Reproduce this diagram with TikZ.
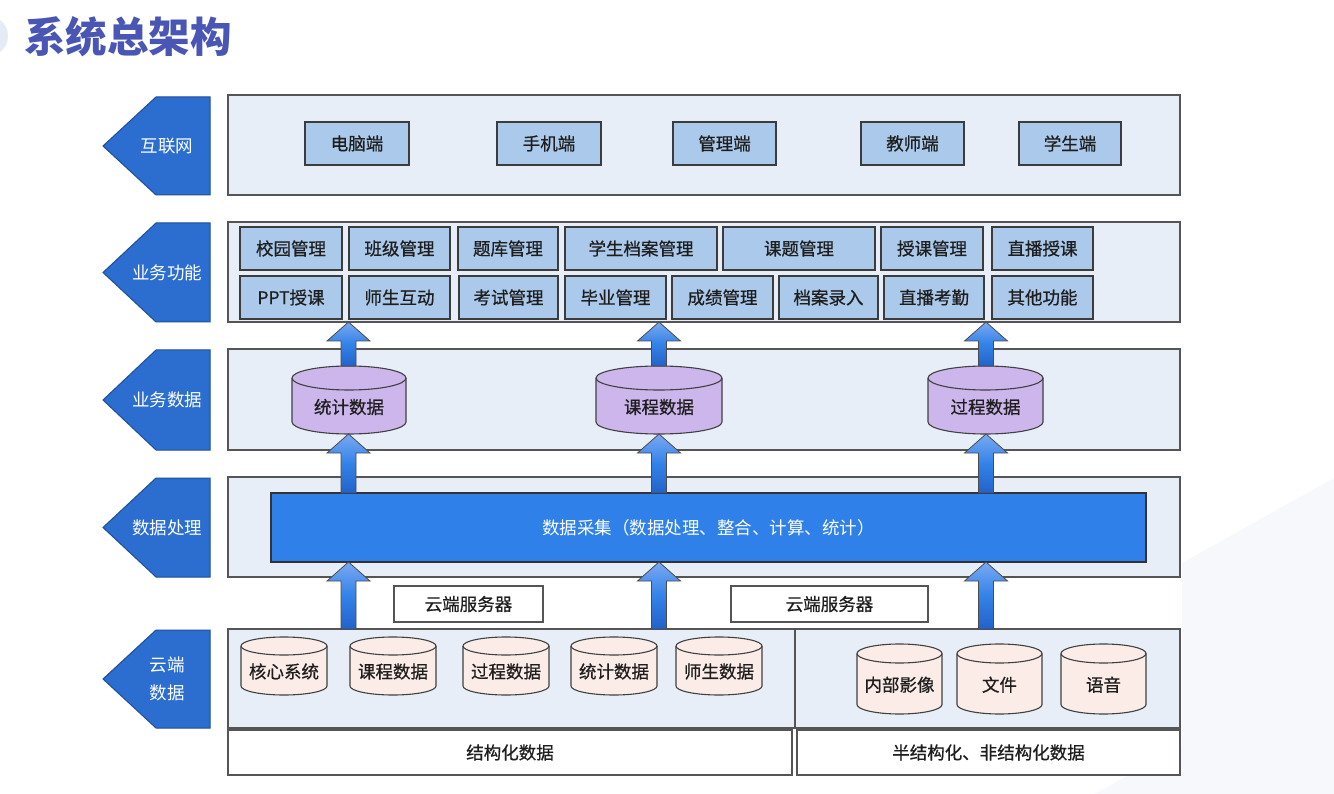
\documentclass[tikz,border=0pt]{standalone}
\usepackage{fontspec}
\setmainfont{Noto Sans CJK SC}
\newfontfamily\boxfont{Noto Sans CJK SC}[FakeBold=0.6]
\usetikzlibrary{calc}
\definecolor{tagblue}{HTML}{2B6ED0}
\definecolor{tagedge}{HTML}{1E4E96}
\definecolor{panelfill}{HTML}{E8EEF8}
\definecolor{edgegray}{HTML}{555555}
\definecolor{boxedge}{HTML}{3C3C3C}
\definecolor{boxfill}{HTML}{ABC9EA}
\definecolor{purplecyl}{HTML}{CDB6EC}
\definecolor{pinkcyl}{HTML}{FBECE7}
\definecolor{barblue}{HTML}{2F80E8}
\definecolor{titleblue}{HTML}{4A56B4}
\definecolor{arrtop}{HTML}{7AA9F2}
\definecolor{arrmid}{HTML}{3382E8}
\definecolor{arrbot}{HTML}{2362CA}
\definecolor{txt}{HTML}{1E1E1E}
\definecolor{faint}{HTML}{F6F8FC}
\definecolor{circ}{HTML}{E4EAF6}

% box node from pixel corners: [style]{name}{x1}{y1}{x2}{y2}{text}
\newcommand\bx[7][]{%
  \node[#1, minimum width={(#5-#3)*1pt}, minimum height={(#6-#4)*1pt}]
    (#2) at ({(#3+#5)/2},{(#4+#6)/2}) {#7};
}
\newcommand\cyl[8]{%
  \path[cylline, fill=#7] (#2-#5, #3+#6) -- (#2-#5, #4-#6)
    arc[start angle=180, end angle=360, x radius=#5pt, y radius=#6pt]
    -- (#2+#5, #3+#6)
    arc[start angle=0, end angle=180, x radius=#5pt, y radius=#6pt] -- cycle;
  \draw[cylline] (#2-#5, #3+#6) arc[start angle=180, end angle=360, x radius=#5pt, y radius=#6pt];
  \coordinate (#1-t) at (#2,#3);
  \coordinate (#1-b) at (#2,#4);
  \node[cyltext] (#1) at (#2, {(#3+#4)/2+#6/2+1}) {#8};
}
\newcommand\blockup[2]{%
  \path[blockarr] let \p1=(#1), \p2=(#2) in
    (\x1-7.5pt,\y1) -- (\x1-7.5pt,\y2-19pt) -- (\x1-21.5pt,\y2-19pt) -- (\x1,\y2)
    -- (\x1+21.5pt,\y2-19pt) -- (\x1+7.5pt,\y2-19pt) -- (\x1+7.5pt,\y1) -- cycle;
}
\newcommand\tagshape[3]{% #1 top y, #2 bottom y, #3 name
  \draw[tagstyle] (210,#1) -- (156,#1) -- (103,{(#1+#2)/2}) -- (156,#2) -- (210,#2) -- cycle;
  \coordinate (#3) at (167,{(#1+#2)/2});
}

\begin{document}
\begin{tikzpicture}[x=1pt,y=-1pt,
  every node/.style={inner sep=0pt, outer sep=0pt},
  panel/.style={draw=edgegray, fill=panelfill, line width=1.2pt},
  whitebox/.style={draw=edgegray, fill=white, line width=1.2pt, text=txt, font=\boxfont\fontsize{17.5}{20}\selectfont},
  bluebox/.style={draw=boxedge, fill=boxfill, line width=1.2pt, text=txt, font=\boxfont\fontsize{17.5}{20}\selectfont},
  bar/.style={draw=black!80, fill=barblue, line width=1.2pt, text=white, font=\fontsize{17.5}{20}\selectfont},
  tagstyle/.style={draw=tagedge, fill=tagblue, line width=1pt},
  tagtext/.style={text=white, font=\fontsize{17.5}{28}\selectfont, align=center},
  cylline/.style={draw=black!75, line width=1.1pt},
  cyltext/.style={text=txt, font=\boxfont\fontsize{17.5}{20}\selectfont},
  blockarr/.style={draw=black!70, line width=0.8pt, top color=arrtop, bottom color=arrbot, middle color=arrmid},
  titlestyle/.style={text=titleblue, font=\fontsize{41.5}{46}\selectfont\bfseries, anchor=west}
]
\useasboundingbox (0,0) rectangle (1334,794);
\fill[white] (0,0) rectangle (1334,794);
% faint background decorations
\fill[faint] (1334,478) -- (1182,563) -- (1182,745) -- (1095,794) -- (1334,794) -- cycle;
\fill[circ] (-12,36) circle[radius=20pt];

% title
\node[titlestyle] (title) at (24,37) {系统总架构};

% left tags
\tagshape{97}{195}{tg1}
\node[tagtext] (tag1) at (tg1) {互联网};
\tagshape{223}{322}{tg2}
\node[tagtext] (tag2) at (tg2) {业务功能};
\tagshape{350}{450}{tg3}
\node[tagtext] (tag3) at (tg3) {业务数据};
\tagshape{478}{577}{tg4}
\node[tagtext] (tag4) at (tg4) {数据处理};
\tagshape{630}{728}{tg5}
\node[tagtext] (tag5) at (tg5) {云端\\数据};

% panels
\bx[panel]{p1}{228}{95}{1180}{195}{}
\bx[panel]{p2}{228}{222}{1180}{322}{}
\bx[panel]{p3}{228}{349}{1180}{450}{}
\bx[panel]{p4}{228}{477}{1180}{577}{}
\bx[panel]{p5l}{228}{629}{795}{728}{}
\bx[panel]{p5r}{795}{629}{1180}{728}{}
\bx[whitebox]{struct}{228}{730}{792}{775}{结构化数据}
\bx[whitebox]{unstruct}{797}{730}{1180}{775}{半结构化、非结构化数据}

% row 1
\bx[bluebox]{pc}{305}{122}{409}{165}{电脑端}
\bx[bluebox]{mobile}{497}{122}{601}{165}{手机端}
\bx[bluebox]{admin}{673}{122}{776}{165}{管理端}
\bx[bluebox]{teacher}{861}{122}{964}{165}{教师端}
\bx[bluebox]{student}{1019}{122}{1121}{165}{学生端}

% row 2 top
\bx[bluebox]{f1}{240}{227}{342}{270}{校园管理}
\bx[bluebox]{f2}{349}{227}{450}{270}{班级管理}
\bx[bluebox]{f3}{458}{227}{558}{270}{题库管理}
\bx[bluebox]{f4}{565}{227}{717}{270}{学生档案管理}
\bx[bluebox]{f5}{723}{227}{875}{270}{课题管理}
\bx[bluebox]{f6}{881}{227}{983}{270}{授课管理}
\bx[bluebox]{f7}{992}{227}{1093}{270}{直播授课}
% row 2 bottom
\bx[bluebox]{g1}{240}{276}{342}{319}{PPT授课}
\bx[bluebox]{g2}{349}{276}{450}{319}{师生互动}
\bx[bluebox]{g3}{459}{276}{558}{319}{考试管理}
\bx[bluebox]{g4}{565}{276}{666}{319}{毕业管理}
\bx[bluebox]{g5}{672}{276}{773}{319}{成绩管理}
\bx[bluebox]{g6}{779}{276}{878}{319}{档案录入}
\bx[bluebox]{g7}{884}{276}{984}{319}{直播考勤}
\bx[bluebox]{g8}{992}{276}{1093}{319}{其他功能}

% row 3 cylinders
\cyl{cstat}{349}{366}{434}{57}{12}{purplecyl}{统计数据}
\cyl{ccourse}{659}{366}{434}{63}{12}{purplecyl}{课程数据}
\cyl{cproc}{985.5}{366}{434}{57.5}{12}{purplecyl}{过程数据}

% data collection bar
\bx[bar]{collect}{271}{493}{1146}{562}{数据采集（数据处理、整合、计算、统计）}

% cloud servers
\bx[whitebox]{srv1}{394}{586}{543}{622}{云端服务器}
\bx[whitebox]{srv2}{731}{586}{928}{622}{云端服务器}

% row 5 cylinders
\cyl{core}{284}{637}{695}{43}{9}{pinkcyl}{核心系统}
\cyl{dcourse}{393}{637}{695}{43}{9}{pinkcyl}{课程数据}
\cyl{dproc}{506}{637}{695}{43}{9}{pinkcyl}{过程数据}
\cyl{dstat}{614}{637}{695}{43}{9}{pinkcyl}{统计数据}
\cyl{dts}{719}{637}{695}{43}{9}{pinkcyl}{师生数据}
\cyl{img}{899.5}{644}{714}{42.5}{9.5}{pinkcyl}{内部影像}
\cyl{file}{999.5}{644}{714}{42.5}{9.5}{pinkcyl}{文件}
\cyl{voice}{1103.5}{644}{714}{42.5}{9.5}{pinkcyl}{语音}

% block arrows
\coordinate (ax1) at (348.5,0);
\coordinate (ax2) at (659,0);
\coordinate (ax3) at (986,0);
\blockup{ax1 |- cstat-t}{ax1 |- p2.south}
\blockup{ax2 |- ccourse-t}{ax2 |- p2.south}
\blockup{ax3 |- cproc-t}{ax3 |- p2.south}
\blockup{ax1 |- collect.north}{ax1 |- cstat-b}
\blockup{ax2 |- collect.north}{ax2 |- ccourse-b}
\blockup{ax3 |- collect.north}{ax3 |- cproc-b}
\blockup{ax1 |- p5l.north}{ax1 |- collect.south}
\blockup{ax2 |- p5l.north}{ax2 |- collect.south}
\blockup{ax3 |- p5r.north}{ax3 |- collect.south}
\end{tikzpicture}
\end{document}
